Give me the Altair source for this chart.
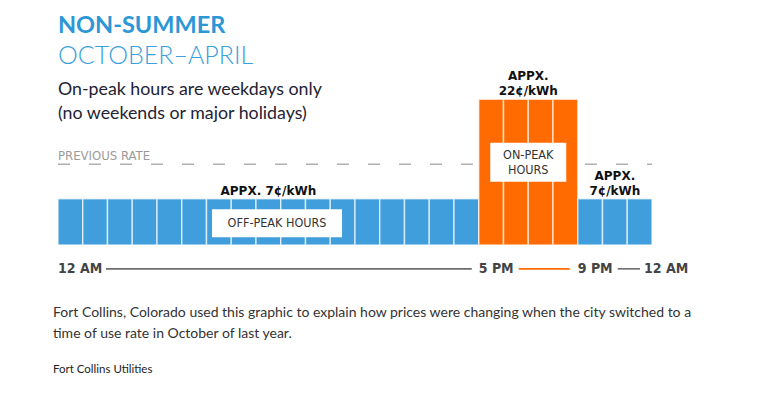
import altair as alt
import pandas as pd

# ---- data -------------------------------------------------------------
period_kind = ["off", "on", "off"]
period_start = [0, 17, 21]
period_end = [17, 21, 24]
period_rate = [7, 22, 7]
period_label = [["APPX. 7¢/kWh"], ["APPX.", "22¢/kWh"], ["APPX.", "7¢/kWh"]]
previous_rate = 12.2

tick_labels = ["12 AM", "5 PM", "9 PM", "12 AM"]
tick_hours = [0, 17, 21, 24]

title_lines = ["NON-SUMMER", "OCTOBER–APRIL"]
subtitle_lines = ["On-peak hours are weekdays only", "(no weekends or major holidays)"]
caption_lines = [
    "Fort Collins, Colorado used this graphic to explain how prices were changing when the city switched to a",
    "time of use rate in October of last year.",
]
credit = "Fort Collins Utilities"

# ---- tables -----------------------------------------------------------
bars = []
for k, s, e, r in zip(period_kind, period_start, period_end, period_rate):
    for h in range(s, e):
        bars.append({"hour": h, "hour_end": h + 1, "rate": r, "kind": k})
bars = pd.DataFrame(bars)

labels = []
for k, s, e, r, lines in zip(period_kind, period_start, period_end, period_rate, period_label):
    n = len(lines)
    for i, t in enumerate(lines):
        labels.append({"x": (s + e) / 2, "rate": r, "text": t, "line": n - 1 - i})
labels = pd.DataFrame(labels)

W, H = 762, 380
PX_H = 24.75          # pixels per hour
PX_C = 6.62           # pixels per cent
X0, Y0 = 50, 237      # plot position of hour 0 / rate 0
xs = alt.Scale(domain=[-X0 / PX_H, (W - X0) / PX_H], nice=False, zero=False)
ys = alt.Scale(domain=[-(H - Y0) / PX_C, Y0 / PX_C], nice=False, zero=False)

BLUE = "#3f9edb"
ORANGE = "#ff6b00"
COND = "'DejaVu Sans Condensed', Roboto, sans-serif"
one = pd.DataFrame({"a": [0]})


def X(field="x"):
    return alt.X(field, type="quantitative", scale=xs, axis=None)


def Y(field="y"):
    return alt.Y(field, type="quantitative", scale=ys, axis=None)


# previous-rate dashed line (under the bars)
prev = alt.Chart(pd.DataFrame({"x": [0], "x2": [24], "y": [previous_rate]})).mark_rule(
    color="#b0b0b0", strokeWidth=1.6, strokeDash=[12, 19]
).encode(x=X(), x2="x2:Q", y=Y())

prev_text = alt.Chart(pd.DataFrame({"x": [0], "y": [previous_rate], "t": ["PREVIOUS RATE"]})).mark_text(
    align="left", baseline="alphabetic", dy=-4, font=COND, fontSize=13, color="#9a9a9a"
).encode(x=X(), y=Y(), text="t:N")

bar_layer = alt.Chart(bars).mark_rect(stroke="white", strokeWidth=1.5, strokeOpacity=0.65).encode(
    x=X("hour"), x2="hour_end:Q", y=Y("rate"), y2=alt.Y2("zero:Q"),
    color=alt.Color("kind:N", scale=alt.Scale(domain=["off", "on"], range=[BLUE, ORANGE]), legend=None),
).transform_calculate(zero="0")

rate_layers = []
for ln in [0, 1]:
    rate_layers.append(
        alt.Chart(labels).transform_filter(f"datum.line == {ln}").mark_text(
            align="center", baseline="alphabetic", dy=-4 - 15 * ln,
            font="DejaVu Sans", fontWeight="bold", fontSize=12, color="#111111"
        ).encode(x=X(), y=Y("rate"), text="text:N")
    )


# label boxes
def box(cx, cy, w, h):
    return alt.Chart(pd.DataFrame({"x": [cx], "y": [cy]})).mark_rect(color="white", width=w, height=h).encode(
        x=X(), y=Y())


def boxtext(cx, cy, t, dy=0):
    return alt.Chart(pd.DataFrame({"x": [cx], "y": [cy], "t": [t]})).mark_text(
        font=COND, fontSize=12.5, color="#333333", baseline="middle", align="center", dy=dy
    ).encode(x=X(), y=Y(), text="t:N")


boxes = [
    box(8.85, 3.3, 130, 28), boxtext(8.85, 3.3, "OFF-PEAK HOURS"),
    box(19, 12.5, 76, 39), boxtext(19, 12.5, "ON-PEAK", -7.5), boxtext(19, 12.5, "HOURS", 7.5),
]

# time axis row
ROW = -3.6
ticks = pd.DataFrame({"x": tick_hours, "t": tick_labels, "y": [ROW] * 4, "i": list(range(4))})
tick_layers = []
for cond, dx in [("datum.i < 3", 0), ("datum.i == 3", -8)]:
    tick_layers.append(
        alt.Chart(ticks).transform_filter(cond).mark_text(
            align="left", baseline="middle", dx=dx, font=COND, fontWeight="bold", fontSize=14, color="#444444"
        ).encode(x=X(), y=Y(), text="t:N")
    )

seg_layers = []
for (a, b, c, o1, o2) in [(0, 17, "#6d6d6d", 48, -7), (17, 21, ORANGE, 40, -8), (21, 24, "#6d6d6d", 40, -12)]:
    seg_layers.append(
        alt.Chart(pd.DataFrame({"x": [a], "x2": [b], "y": [ROW]})).mark_rule(
            color=c, strokeWidth=1.6, xOffset=o1, x2Offset=o2
        ).encode(x=X(), x2="x2:Q", y=Y())
    )


# titles and caption
def txt(t, x, y, **kw):
    return alt.Chart(one).mark_text(align="left", baseline="alphabetic", **kw).encode(
        x=alt.value(x), y=alt.value(y), text=alt.value(t))


head = [
    txt(title_lines[0], 50, 25, font="Lato", fontWeight="bold", fontSize=23.5, color="#2b97d6"),
    txt(title_lines[1], 50, 56, font="Lato", fontWeight=300, fontSize=25, color="#3aa0dc"),
    txt(subtitle_lines[0], 50, 87, font="Lato", fontSize=17.8, color="#222233"),
    txt(subtitle_lines[1], 50, 111, font="Lato", fontSize=17.8, color="#222233"),
    txt(caption_lines[0], 45, 309, font="Lato", fontSize=14, color="#333333"),
    txt(caption_lines[1], 45, 330, font="Lato", fontSize=14, color="#333333"),
    txt(credit, 45, 365, font="Lato", fontSize=11.5, color="#222222"),
]

chart = alt.layer(
    prev, bar_layer, prev_text, *rate_layers, *boxes, *tick_layers, *seg_layers, *head
).properties(
    width=W, height=H, autosize=alt.AutoSizeParams(type="none"), padding=0, background="white"
).configure_view(stroke=None)

chart.save("out.html", embed_options={"renderer": "svg", "actions": False})
